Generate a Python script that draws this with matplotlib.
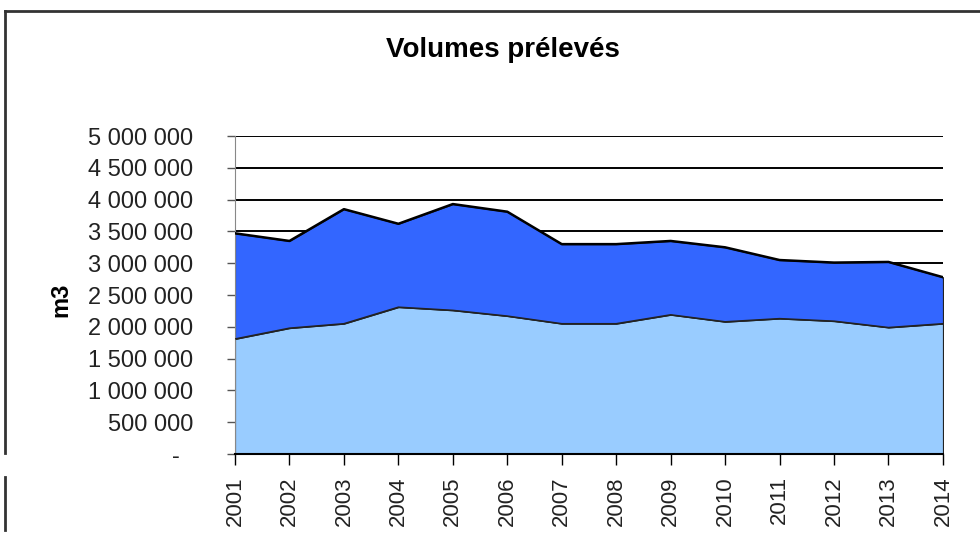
import matplotlib
matplotlib.use("Agg")
import matplotlib.pyplot as plt
from matplotlib.lines import Line2D
from matplotlib.ticker import FuncFormatter

plt.rcParams['font.family'] = ['Liberation Sans', 'DejaVu Sans']

# data (m3)
annees = [2001, 2002, 2003, 2004, 2005, 2006, 2007, 2008, 2009, 2010, 2011, 2012, 2013, 2014]
volumes_bas = [1810000, 1980000, 2050000, 2310000, 2260000, 2170000, 2050000,
               2050000, 2190000, 2080000, 2130000, 2090000, 1990000, 2050000]
volumes_haut = [1660000, 1370000, 1800000, 1310000, 1670000, 1640000, 1250000,
                1250000, 1160000, 1170000, 920000, 920000, 1030000, 730000]
y_ticks = [0, 500000, 1000000, 1500000, 2000000, 2500000, 3000000, 3500000, 4000000, 4500000, 5000000]

total = [a + b for a, b in zip(volumes_bas, volumes_haut)]

fig = plt.figure(figsize=(9.8, 5.33), dpi=100)
ax = fig.add_axes([0.2398, 0.1482, 0.7224, 0.5966])

# grid behind the areas
for v in y_ticks[1:]:
    ax.axhline(v, color='black', lw=1.4, zorder=0)

ax.stackplot(annees, volumes_bas, volumes_haut, colors=['#99ccff', '#3366ff'],
             edgecolor='#222222', linewidth=0.8, zorder=2)
ax.plot(annees, total, color='black', lw=1.8, zorder=3)
ax.plot(annees, volumes_bas, color='#222222', lw=1.0, zorder=3)

ax.set_xlim(2001, 2014)
ax.set_ylim(0, 5000000)
ax.set_xticks(annees)
ax.set_xticklabels([str(a) for a in annees], rotation=90, fontsize=16)
ax.set_yticks(y_ticks)


def fmt(v, pos):
    if v == 0:
        return '-  '
    return '{:,.0f}'.format(v).replace(',', ' ')


ax.yaxis.set_major_formatter(FuncFormatter(fmt))
ax.tick_params(axis='y', labelsize=17, length=6, width=1, color='#555555',
               labelcolor='#222222', pad=24)
ax.tick_params(axis='x', length=8, width=1, color='black', labelcolor='#222222', pad=8)

for s in ['top', 'right']:
    ax.spines[s].set_visible(False)
ax.spines['left'].set_color('#888888')
ax.spines['bottom'].set_color('black')
ax.spines['bottom'].set_linewidth(1.5)
ax.spines['bottom'].set_zorder(4)

fig.text(0.513, 0.906, 'Volumes prélevés', ha='center', va='center',
         fontsize=20, fontweight='bold')
fig.text(0.062, 0.437, 'm3', ha='center', va='center', rotation=90,
         fontsize=17, fontweight='bold')

# outer frame (left side broken near the axis)
fig.add_artist(Line2D([5 / 980, 1.0], [1 - 11 / 533, 1 - 11 / 533],
                      color='#333333', lw=2, transform=fig.transFigure))
fig.add_artist(Line2D([5 / 980, 5 / 980], [1 - 11 / 533, 1 - 453 / 533],
                      color='#333333', lw=2, transform=fig.transFigure))
fig.add_artist(Line2D([5 / 980, 5 / 980], [1 - 477 / 533, 1 - 530 / 533],
                      color='#333333', lw=2, transform=fig.transFigure))

fig.savefig('out.png', dpi=100)
